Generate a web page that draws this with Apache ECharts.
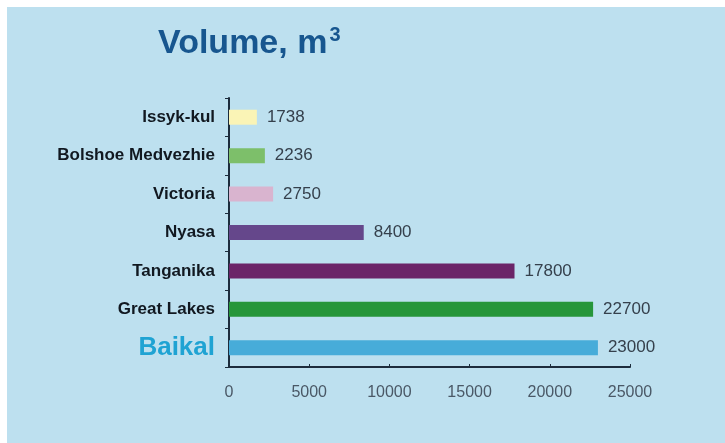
<!DOCTYPE html>
<html lang="en">
<head>
	<meta charset="UTF-8">
	<title>Volume, m3</title>
	<style type="text/css">
		body{
			margin: 0;
			background: #fff;
		}
		#a{
			position: absolute;
			left: 7px;
			top: 7px;
			width: 718px;
			height: 436px;
			background: #bde0ef;
		}
	</style>
</head>
<body>
	<div id="a"></div>
	<script type="text/javascript" src="https://cdn.jsdelivr.net/npm/echarts@6/dist/echarts.min.js"></script>
	<script type="text/javascript">
		// lakes, top to bottom
		var lakes = ['Issyk-kul', 'Bolshoe Medvezhie', 'Victoria', 'Nyasa', 'Tanganika', 'Great Lakes', 'Baikal'];
		var volumes = [1738, 2236, 2750, 8400, 17800, 22700, 23000];
		var barColors = ['#faf4b6', '#7dbf6a', '#d9b4cf', '#65478b', '#6b2468', '#26963a', '#47acd9'];
		var xTicks = [0, 5000, 10000, 15000, 20000, 25000];

		var myChart = echarts.init(document.getElementById('a'));

		var d = [];
		for(var i=0;i<lakes.length;i++){
			d.push({
				value: volumes[i],
				itemStyle: {color: barColors[i]}
			});
		}

		var option = {
			title: {
				text: '{a|Volume, m}{b|3}',
				left: 146,
				top: 13,
				textStyle: {
					rich: {
						a: {
							fontFamily: 'Liberation Sans',
							fontWeight: 'bold',
							fontSize: 34,
							color: '#17568f',
							lineHeight: 36,
							verticalAlign: 'bottom'
						},
						b: {
							fontFamily: 'Liberation Sans',
							fontWeight: 'bold',
							fontSize: 20,
							color: '#17568f',
							lineHeight: 36,
							verticalAlign: 'top',
							padding: [0, 0, 0, 2]
						}
					}
				}
			},
			grid: {
				left: 222,
				top: 91,
				right: 95,
				bottom: 76
			},
			xAxis: {
				type: 'value',
				min: xTicks[0],
				max: xTicks[xTicks.length-1],
				interval: 5000,
				splitLine: {show: false},
				axisLine: {show: true, lineStyle: {color: '#1c2c3c', width: 2}},
				axisTick: {show: true, inside: true, length: 3, lineStyle: {color: '#1c2c3c'}},
				axisLabel: {
					margin: 18,
					fontFamily: 'Liberation Sans',
					fontSize: 16,
					color: '#4a5866',
					formatter: function(v){ return String(v); }
				}
			},
			yAxis: {
				type: 'category',
				data: lakes,
				inverse: true,
				axisLine: {show: true, lineStyle: {color: '#1c2c3c', width: 2}},
				axisTick: {show: true, length: 4, lineStyle: {color: '#1c2c3c'}},
				axisLabel: {
					margin: 14,
					fontFamily: 'Liberation Sans',
					fontWeight: 'bold',
					fontSize: 17,
					color: '#111820',
					formatter: function(v){
						return v === 'Baikal' ? '{big|' + v + '}' : v;
					},
					rich: {
						big: {
							fontFamily: 'Liberation Sans',
							fontWeight: 'bold',
							fontSize: 26,
							color: '#1fa3d3'
						}
					}
				}
			},
			series: [
				{
					type: 'bar',
					barWidth: 15,
					data: d,
					label: {
						show: true,
						position: 'right',
						distance: 10,
						fontFamily: 'Liberation Sans',
						fontSize: 17,
						color: '#35404c'
					}
				}
			]
		};
		myChart.setOption(option);
	</script>
</body>
</html>
